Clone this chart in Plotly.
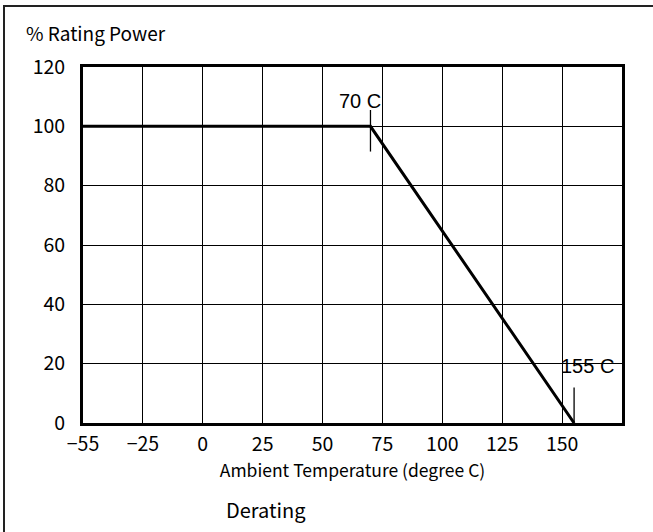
import plotly.graph_objects as go

# Derating curve
temps = [-55, 70, 155]
power = [100, 100, 0]

# marker ticks at knee points
knee70_x = [70, 70]
knee70_y = [91.5, 105.5]
knee155_x = [155, 155]
knee155_y = [0, 12]

x_tickvals = [-50, -25, 0, 25, 50, 75, 100, 125, 150]
x_ticktext = ["\u221255", "\u221225", "0", "25", "50", "75", "100", "125", "150"]
y_tickvals = [0, 20, 40, 60, 80, 100, 120]

FONT = "Noto Sans CJK JP"
ARIAL = "Liberation Sans"

fig = go.Figure()
fig.add_trace(go.Scatter(x=temps, y=power, mode="lines",
                         line=dict(color="black", width=3), showlegend=False, hoverinfo="skip"))
fig.add_trace(go.Scatter(x=knee70_x, y=knee70_y, mode="lines",
                         line=dict(color="black", width=1.3), showlegend=False, hoverinfo="skip"))
fig.add_trace(go.Scatter(x=knee155_x, y=knee155_y, mode="lines",
                         line=dict(color="black", width=1.3), showlegend=False, hoverinfo="skip"))

fig.add_annotation(x=70, y=108.5, text="70 C", showarrow=False, xanchor="center",
                   yanchor="middle", xshift=-10, font=dict(family=ARIAL, size=20, color="black"))
fig.add_annotation(x=155, y=19.2, text="155 C", showarrow=False, xanchor="center",
                   yanchor="middle", xshift=13, font=dict(family=ARIAL, size=20, color="black"))

fig.add_annotation(xref="paper", yref="paper", x=(24 - 83) / 539, y=(423 - 32) / 356,
                   text="% Rating Power", showarrow=False, xanchor="left", yanchor="middle",
                   font=dict(family=FONT, size=19, color="black"))
fig.add_annotation(xref="paper", yref="paper", x=(266 - 83) / 539, y=(423 - 509) / 356,
                   text="Derating", showarrow=False, xanchor="center", yanchor="middle",
                   font=dict(family=FONT, size=20, color="black"))

# outer frame
fig.add_shape(type="rect", xref="paper", yref="paper",
              x0=(4 - 83) / 539, x1=(680 - 83) / 539,
              y0=(423 - 560) / 356, y1=(423 - 6) / 356,
              line=dict(color="#222", width=2), layer="below")

fig.update_xaxes(range=[-50, 175], tickvals=x_tickvals, ticktext=x_ticktext,
                 showgrid=True, gridcolor="black", gridwidth=1.3,
                 showline=True, linecolor="black", linewidth=3, mirror=True,
                 zeroline=False, ticks="", ticklabelstandoff=2,
                 tickfont=dict(family=FONT, size=19.5, color="black"),
                 title=dict(text="Ambient Temperature (degree C)", standoff=7,
                            font=dict(family=FONT, size=17.5, color="black")))
fig.update_yaxes(range=[0, 120], tickvals=y_tickvals,
                 showgrid=True, gridcolor="black", gridwidth=1.3,
                 showline=True, linecolor="black", linewidth=3, mirror=True,
                 zeroline=False, ticks="", ticklabelstandoff=11,
                 tickfont=dict(family=FONT, size=19.5, color="black"))

fig.update_layout(width=653, height=532,
                  margin=dict(l=83, r=31, t=67, b=109, pad=0),
                  plot_bgcolor="white", paper_bgcolor="white")

fig.write_html("out.html", config={"displayModeBar": False},
               post_script="document.body.style.margin='0';")
